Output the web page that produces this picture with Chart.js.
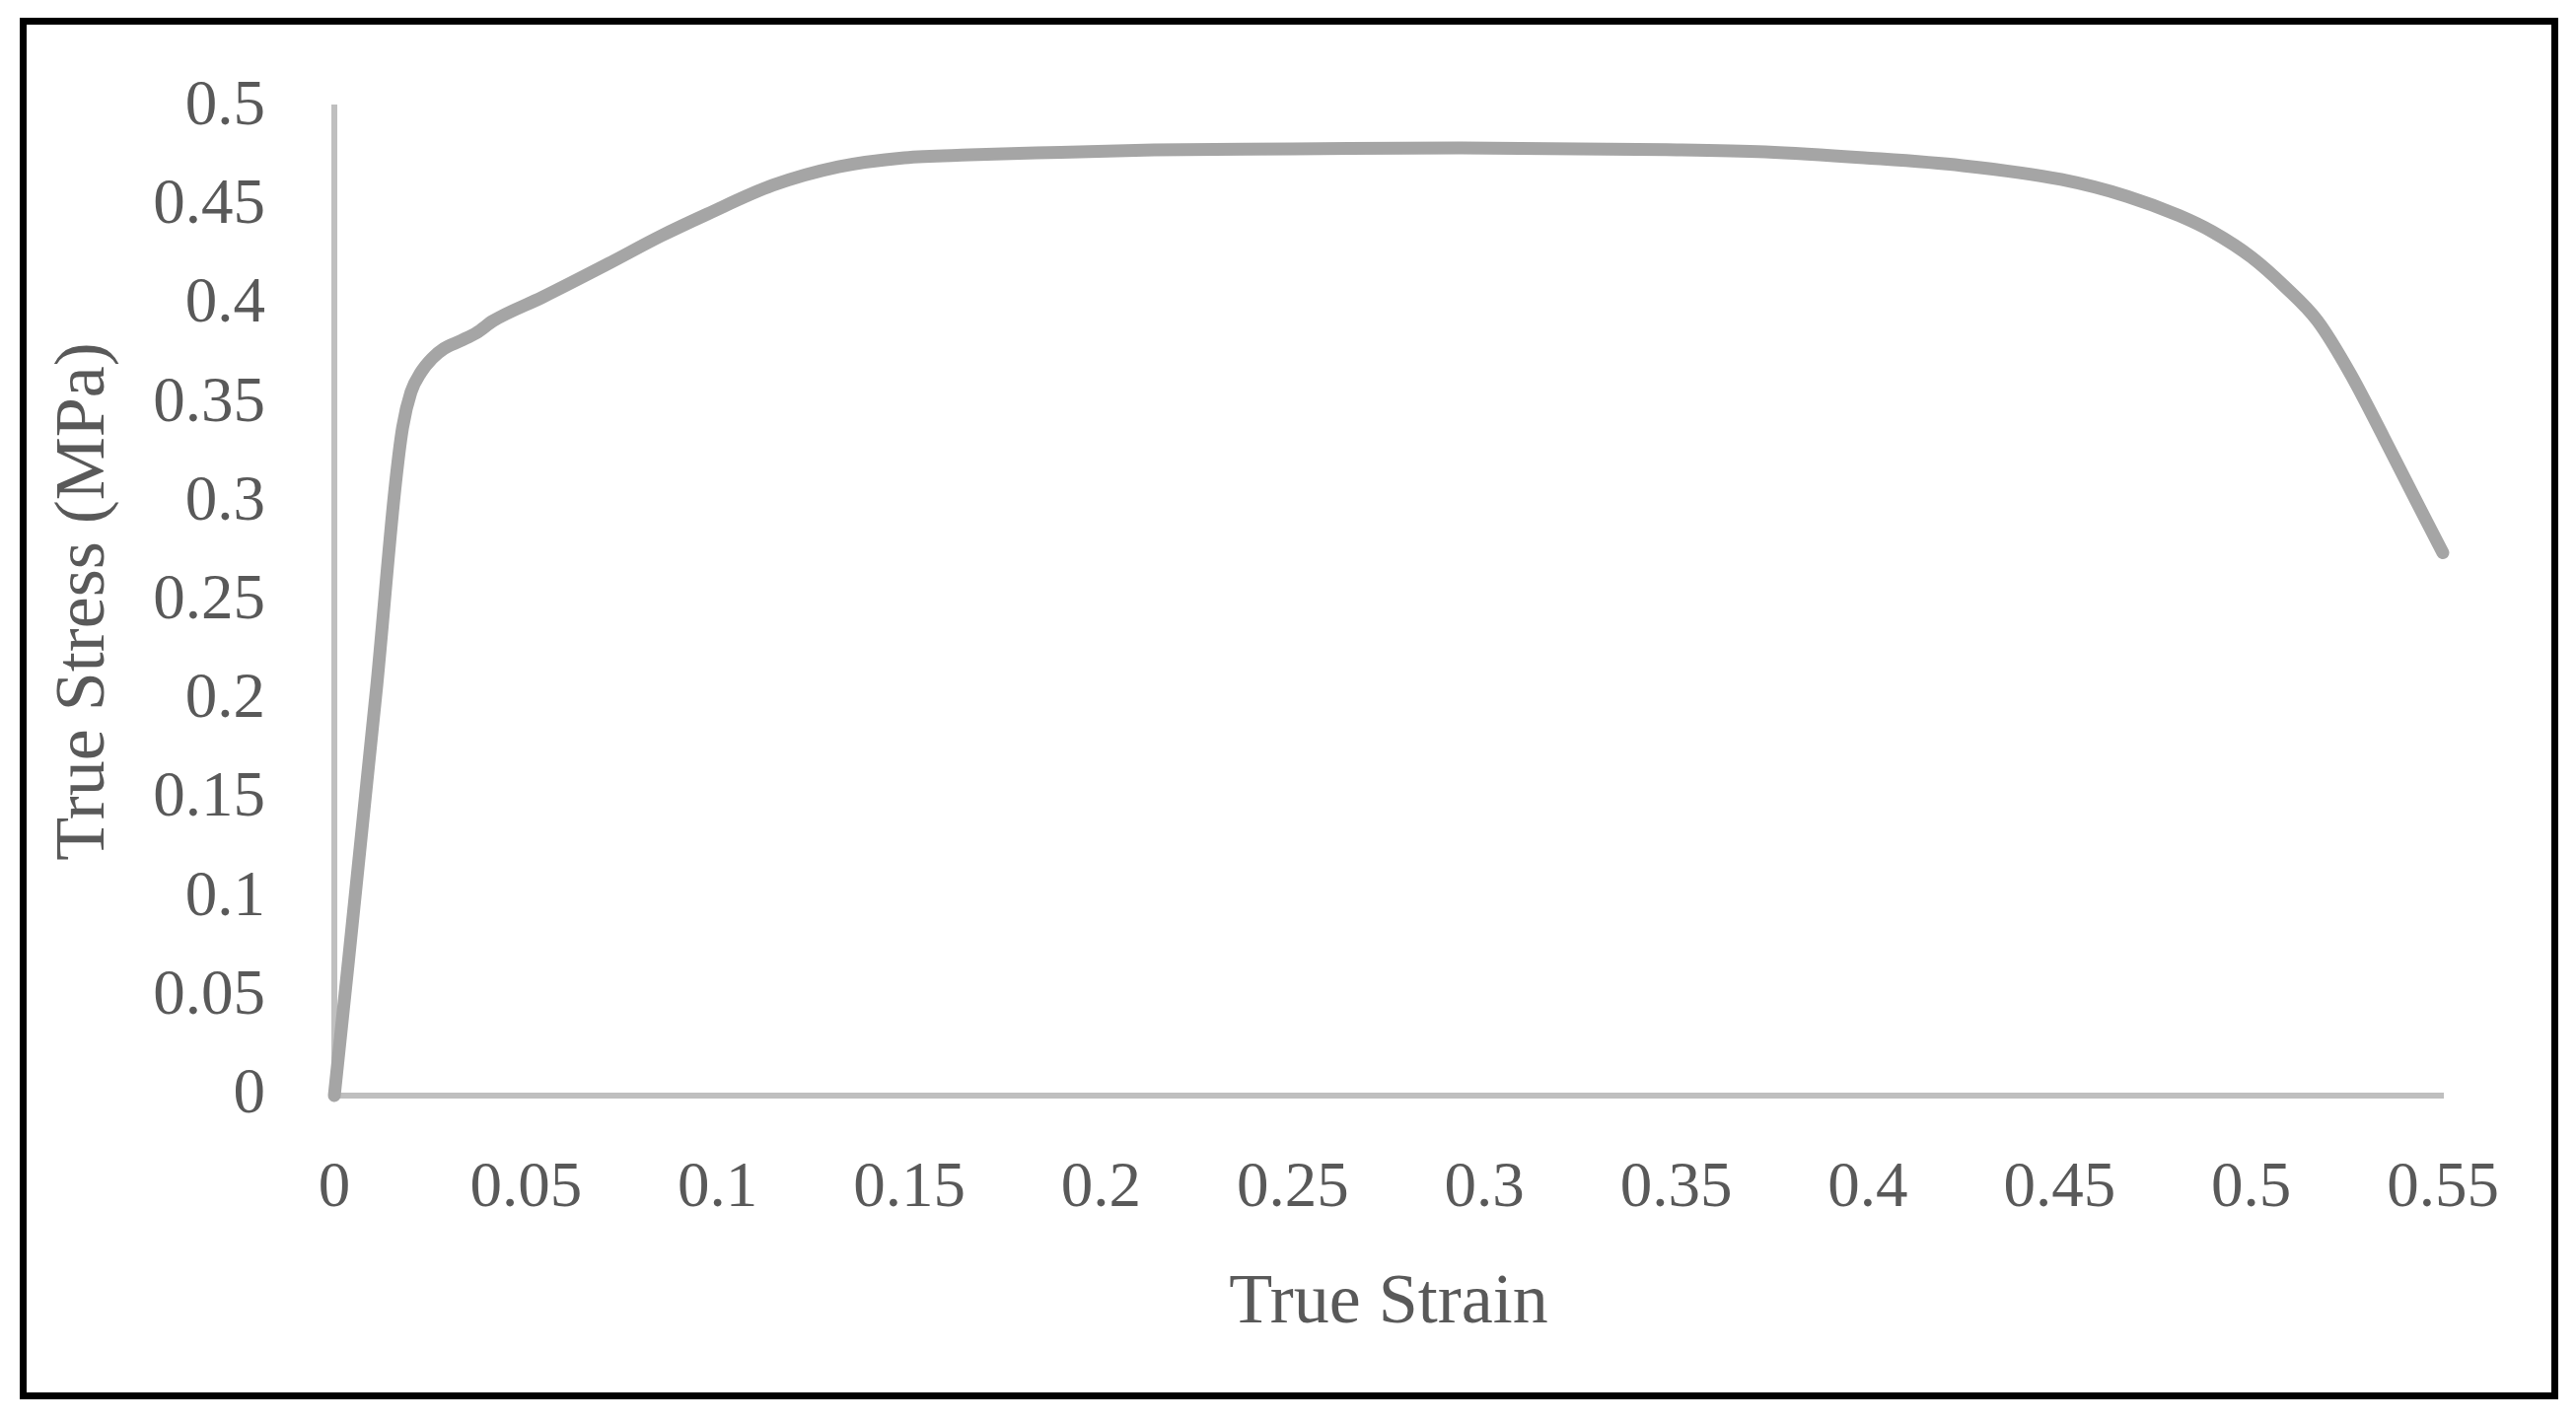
<!DOCTYPE html>
<html>
<head>
<meta charset="utf-8">
<script src="https://cdn.jsdelivr.net/npm/chart.js@4/dist/chart.umd.min.js"></script>
<style>
    body { margin: 0; background: #fff; }
    #frame {
        position: absolute; left: 20px; top: 18px; width: 2574px; height: 1401px;
        border: 7px solid #000; box-sizing: border-box; pointer-events: none;
    }
</style>
</head>
<body>
<canvas id="stressChart" width="2612" height="1442"></canvas>
<div id="frame"></div>
<script>
// values
const strain = [0, 0.0111, 0.0157, 0.0178, 0.0200, 0.0226, 0.0255, 0.0286, 0.0330, 0.0371, 0.0414,
    0.0543, 0.0715, 0.0852, 0.0972, 0.1143, 0.1315, 0.1487, 0.1657, 0.1830, 0.2138, 0.2500,
    0.2935, 0.3475, 0.3733, 0.3990, 0.4247, 0.4504, 0.4677, 0.4813, 0.4900, 0.5001, 0.5088,
    0.5173, 0.5258, 0.5346, 0.5430, 0.5500];
const stress = [0, 0.208, 0.305, 0.338, 0.356, 0.366, 0.373, 0.378, 0.382, 0.386, 0.392,
    0.404, 0.421, 0.435, 0.446, 0.4606, 0.470, 0.4746, 0.476, 0.477, 0.4785, 0.479,
    0.4796, 0.4787, 0.4776, 0.4746, 0.4706, 0.4636, 0.455, 0.4452, 0.437, 0.4242, 0.4093,
    0.392, 0.3655, 0.333, 0.301, 0.2747];

const xTickLabels = ['0', '0.05', '0.1', '0.15', '0.2', '0.25', '0.3', '0.35', '0.4', '0.45', '0.5', '0.55'];
const yTickLabels = ['0', '0.05', '0.1', '0.15', '0.2', '0.25', '0.3', '0.35', '0.4', '0.45', '0.5'];

const textColor = '#595959';
const axisColor = '#bfbfbf';
const tickFont = { family: 'Liberation Serif', size: 65 };
const titleFont = { family: 'Liberation Serif', size: 72 };

new Chart('stressChart', {
    type: 'scatter',
    data: {
        datasets: [{
            data: strain.map((s, i) => ({ x: s, y: stress[i] })),
            showLine: true,
            borderColor: '#a5a5a5',
            borderWidth: 13,
            borderCapStyle: 'round',
            borderJoinStyle: 'round',
            cubicInterpolationMode: 'monotone',
            pointRadius: 0,
            clip: false
        }]
    },
    options: {
        responsive: false,
        devicePixelRatio: 1,
        animation: false,
        layout: {
            padding: { left: 0, top: 108, right: 135, bottom: 0 }
        },
        scales: {
            x: {
                type: 'linear',
                min: 0,
                max: 0.55,
                grid: { display: false, drawTicks: false },
                border: { color: axisColor, width: 6 },
                ticks: {
                    stepSize: 0.05,
                    padding: 56,
                    color: textColor,
                    font: tickFont,
                    maxRotation: 0,
                    autoSkip: false,
                    callback: (v, i) => xTickLabels[i]
                },
                title: {
                    display: true,
                    text: 'True Strain',
                    color: textColor,
                    font: titleFont,
                    padding: { top: 0, bottom: 77 }
                },
                afterFit: (scale) => { scale.height = 331; }
            },
            y: {
                min: 0,
                max: 0.5,
                grid: { display: false, drawTicks: false },
                border: { color: axisColor, width: 6 },
                ticks: {
                    stepSize: 0.05,
                    padding: 70,
                    color: textColor,
                    font: tickFont,
                    autoSkip: false,
                    callback: (v, i) => yTickLabels[i]
                },
                title: {
                    display: true,
                    text: 'True Stress (MPa)',
                    color: textColor,
                    font: titleFont,
                    padding: { top: 43, bottom: 0 }
                },
                afterFit: (scale) => { scale.width = 339; }
            }
        },
        plugins: {
            legend: { display: false },
            tooltip: { enabled: false }
        }
    }
});
</script>
</body>
</html>
